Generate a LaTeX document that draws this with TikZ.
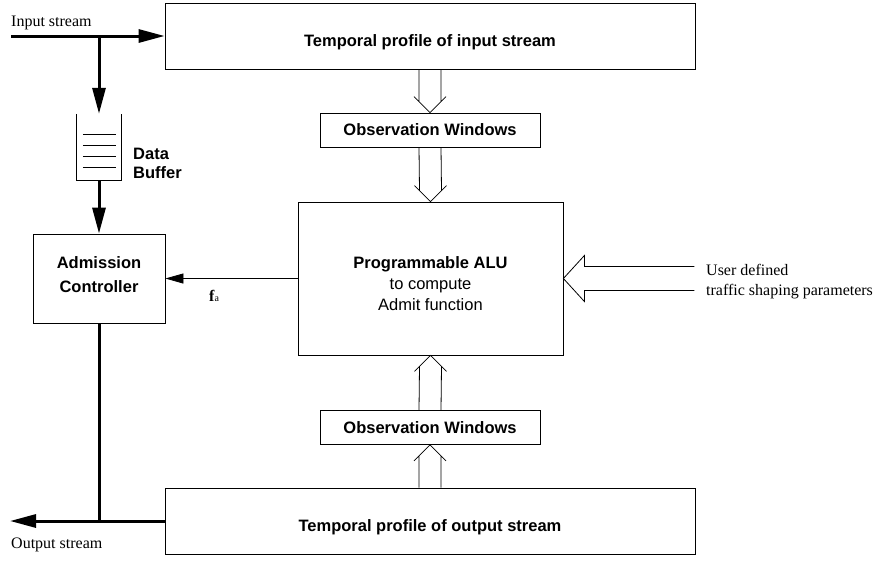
\documentclass[tikz,border=0pt]{standalone}
\usepackage{fontspec}
\setmainfont{Liberation Serif}
\setsansfont{Liberation Sans}
\usetikzlibrary{arrows.meta,calc}
\tikzset{
  box/.style ={rectangle,draw,line width=0.8pt,inner sep=0pt,align=center,font=\sffamily\bfseries\fontsize{16.5}{20}\selectfont},
  lbl/.style ={inner sep=0pt,font=\rmfamily},
  flow/.style={line width=3pt,-{Triangle[length=26pt,width=13pt]}},
  hollow/.style={line width=0.8pt,line join=miter}
}

\begin{document}
\fontsize{16}{20}\selectfont
\begin{tikzpicture}[x=1pt,y=-1pt]
\useasboundingbox (0,0) rectangle (880,560);

% -------- centre column --------
\node[box, minimum width=530, minimum height=66, text height=24pt] (tprof) at (430,36) {Temporal profile of input stream};
\node[box, minimum width=220, minimum height=34] (ow1) at (430,130) {Observation Windows};
\node[box, minimum width=265, minimum height=153, text height=64pt] (alu) at (430.5,278.5)
  {Programmable ALU\\[1pt]\mdseries to compute\\[1pt]\mdseries Admit function};
\node[box, minimum width=220, minimum height=34] (ow2) at (430,427.5) {Observation Windows};
\node[box, minimum width=530, minimum height=66, text height=25pt] (oprof) at (430,521) {Temporal profile of output stream};

% -------- left column --------
\node[minimum width=44, minimum height=66, inner sep=0pt] (buf) at (99,147) {};
\node[lbl, anchor=west, align=left, font=\sffamily\bfseries\fontsize{16.5}{19}\selectfont] (buflbl) at (133,163) {Data\\Buffer};
\node[box, minimum width=132, minimum height=89, text depth=8pt] (adm) at (99,278.5) {Admission\\[4pt]Controller};

% buffer drawn as an open tray with four entries
\draw[line width=0.8pt] (buf.north west) -- (buf.south west) -- (buf.south east) -- (buf.north east);
\foreach \d in {21,32,43,54} \draw[line width=1.2pt] ([xshift=6pt,yshift=-\d pt]buf.north west) -- ++(33,0);

% -------- stream labels --------
\node[lbl, anchor=base west] (instr) at (11,26) {Input stream};
\node[lbl, anchor=base west] (outstr) at (11,548) {Output stream};
\node[lbl, anchor=base west] (fa) at (209,301) {\textbf{f}{\fontsize{10}{10}\selectfont a}};
\node[lbl, anchor=base west] (user) at (706,275) {User defined};
\node[lbl, anchor=base west] (traffic) at (706,295) {traffic shaping parameters};

\coordinate (in) at (11,36);
\coordinate (out) at (10,521);

% wiring: streams
\draw[flow] (in) -- (tprof.west);
\draw[flow] (in -| buf.north) -- (buf.north);
\draw[flow] (buf.south) -- (adm.north);
\draw[line width=3pt] (adm.south) -- (adm.south |- oprof.west);
\draw[flow] (oprof.west) -- (out);
\draw[line width=0.8pt,-{Triangle[length=18pt,width=10pt]}] (alu.west |- adm.east) -- (adm.east);

% hollow arrows between boxes
\foreach \s/\sa/\t/\ta/\h/\k in {tprof/south/ow1/north/-16/-11, ow1/south/alu/north/-16/-11,
                                   oprof/north/ow2/south/16/11, ow2/north/alu/south/16/11}
  \draw[hollow] ($(\s.\sa)+(-11,0)$) -- ($(\t.\ta)+(-11,\k)$)
                ($(\t.\ta)+(-16,\h)$) -- (\t.\ta) -- ($(\t.\ta)+(16,\h)$)
                ($(\t.\ta)+(11,\k)$) -- ($(\s.\sa)+(11,0)$);

\draw[hollow] ($(alu.east)+(131,-12)$) -- ++(-110,0) -- ++(0,-11) -- (alu.east)
              -- ($(alu.east)+(21,23)$) -- ++(0,-11) -- ++(110,0);

\end{tikzpicture}
\end{document}
